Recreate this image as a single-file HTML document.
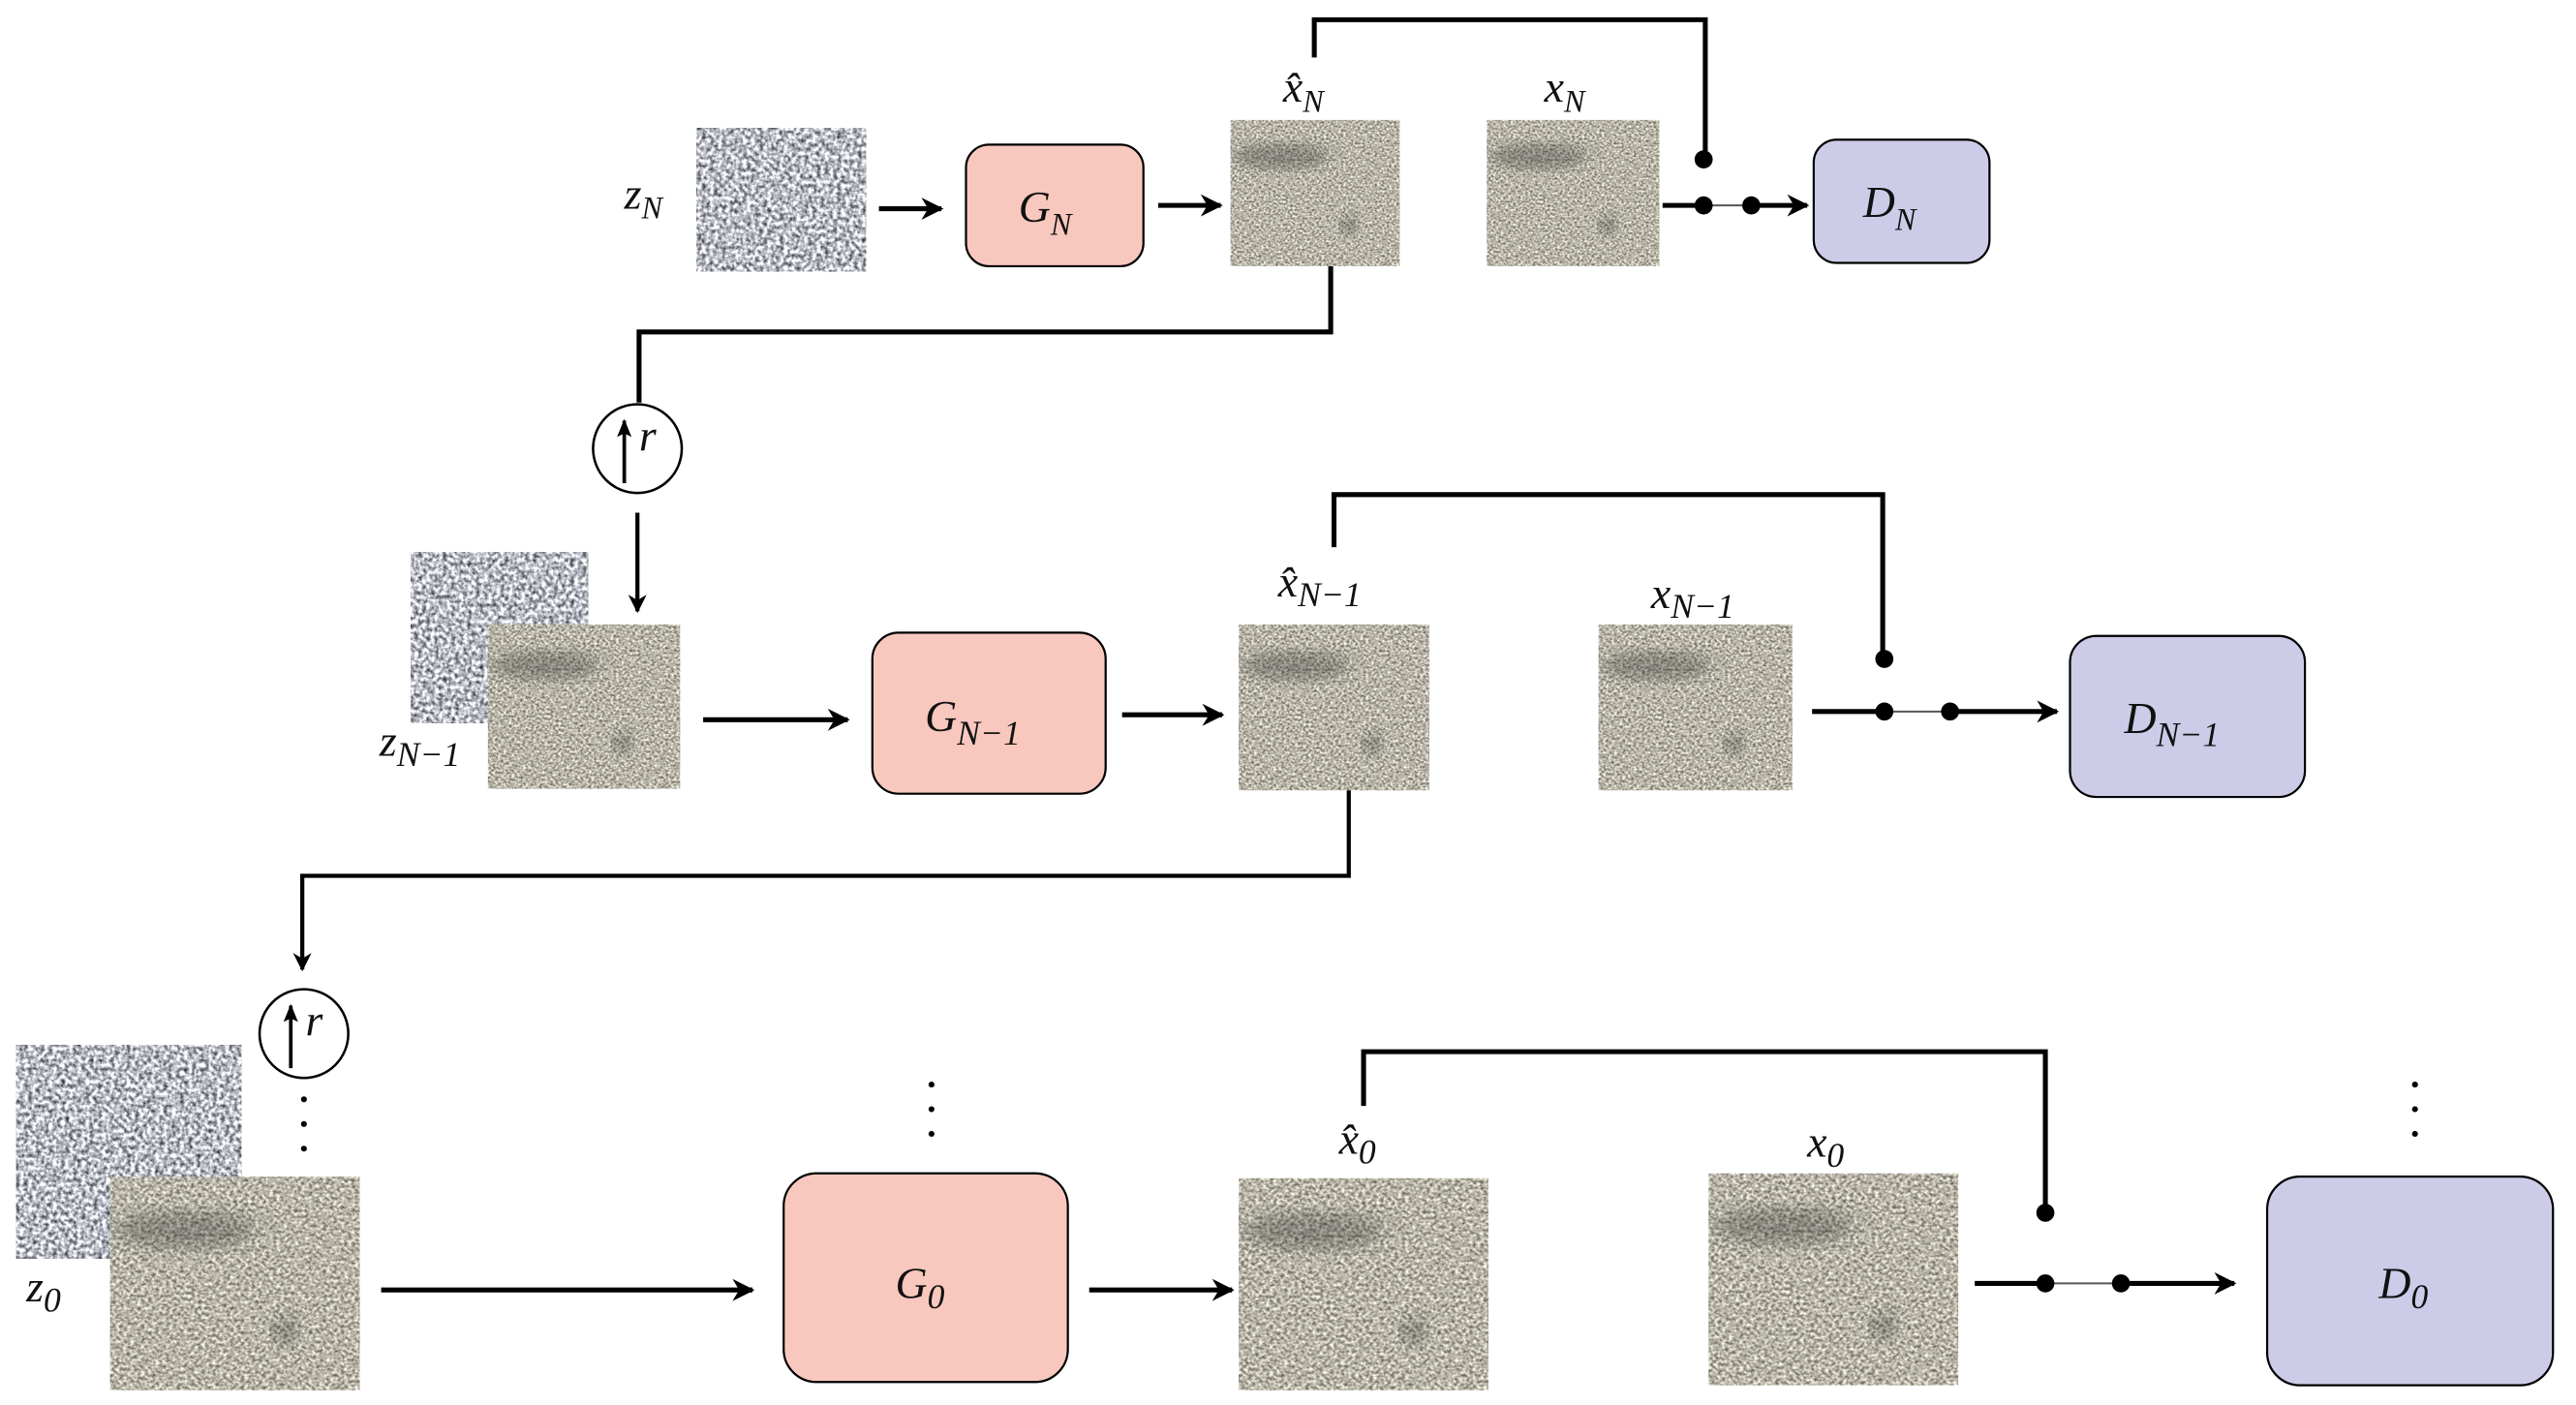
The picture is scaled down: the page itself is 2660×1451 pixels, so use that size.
<!DOCTYPE html>
<html><head><meta charset="utf-8"><style>
html,body{margin:0;padding:0;background:#fff;}
svg{display:block;}
text{font-family:"Liberation Serif",serif;font-style:italic;fill:#111;}
</style></head><body>
<svg width="2660" height="1451" viewBox="0 0 1568 855" preserveAspectRatio="none" xmlns="http://www.w3.org/2000/svg">
<defs>
<filter id="noise" x="0" y="0" width="100%" height="100%" color-interpolation-filters="sRGB">
<feTurbulence type="fractalNoise" baseFrequency="0.4" numOctaves="2" seed="3"/>
<feColorMatrix type="matrix" values="1 0 0 0 0  1 0 0 0 0  1 0 0 0 0  0 0 0 0 1"/>
<feComponentTransfer>
<feFuncR type="linear" slope="1.5" intercept="-0.02"/>
<feFuncG type="linear" slope="1.5" intercept="-0.01"/>
<feFuncB type="linear" slope="1.5" intercept="0.02"/>
</feComponentTransfer>
</filter>
<filter id="sand" x="0" y="0" width="100%" height="100%" color-interpolation-filters="sRGB">
<feTurbulence type="fractalNoise" baseFrequency="0.7" numOctaves="2" seed="7"/>
<feColorMatrix type="matrix" values="1 0 0 0 0  1 0 0 0 0  1 0 0 0 0  0 0 0 0 1"/>
<feComponentTransfer>
<feFuncR type="linear" slope="1.0" intercept="0.22"/>
<feFuncG type="linear" slope="1.0" intercept="0.21"/>
<feFuncB type="linear" slope="1.0" intercept="0.16"/>
</feComponentTransfer>
</filter>
<filter id="blur"><feGaussianBlur stdDeviation="4"/></filter>
<marker id="ah" viewBox="0 0 10 10" refX="9" refY="5" markerWidth="4.5" markerHeight="4.5" orient="auto"><path d="M0,0 L10,5 L0,10 L3,5 z" fill="#000"/></marker>
<marker id="ah2" viewBox="0 0 10 10" refX="9" refY="5" markerWidth="5" markerHeight="5" orient="auto"><path d="M0,1 L10,5 L0,9 L2,5 z" fill="#000"/></marker>
<g id="tex"><rect width="100" height="100" filter="url(#sand)"/><ellipse cx="30" cy="25" rx="28" ry="9" fill="#333" opacity="0.35" filter="url(#blur)"/><ellipse cx="70" cy="72" rx="5" ry="7" fill="#333" opacity="0.4" filter="url(#blur)"/></g>
</defs>
<g stroke="#000" stroke-width="3" fill="none">
<path d="M535,127 H573" marker-end="url(#ah)"/>
<path d="M705,125 H743" marker-end="url(#ah)"/>
<path d="M800,35 V12 H1038 V97"/>
<path d="M1012,125 H1037"/>
<path d="M1066,125 H1100" marker-end="url(#ah)"/>
<path d="M1037,125 H1066" stroke-width="1.2" stroke="#555"/>
<path d="M810,162 V202 H389 V245"/>
<path d="M388,312 V372" stroke-width="2.5" marker-end="url(#ah)"/>
<path d="M428,438 H516" marker-end="url(#ah)"/>
<path d="M683,435 H744" marker-end="url(#ah)"/>
<path d="M812,333 V301 H1146 V401"/>
<path d="M1103,433 H1147"/>
<path d="M1187,433 H1252" marker-end="url(#ah)"/>
<path d="M1147,433 H1187" stroke-width="1.2" stroke="#555"/>
<path d="M821,481 V533 H184 V590" stroke-width="2.5" marker-end="url(#ah)"/>
<path d="M232,785 H458" marker-end="url(#ah)"/>
<path d="M663,785 H750" marker-end="url(#ah)"/>
<path d="M830,673 V640 H1245 V738"/>
<path d="M1202,781 H1245"/>
<path d="M1291,781 H1360" marker-end="url(#ah)"/>
<path d="M1245,781 H1291" stroke-width="1.2" stroke="#555"/>
</g>
<g fill="#000">
<circle cx="1037" cy="97" r="5.5"/><circle cx="1037" cy="125" r="5.5"/><circle cx="1066" cy="125" r="5.5"/>
<circle cx="1147" cy="401" r="5.5"/><circle cx="1147" cy="433" r="5.5"/><circle cx="1187" cy="433" r="5.5"/>
<circle cx="1245" cy="738" r="5.5"/><circle cx="1245" cy="781" r="5.5"/><circle cx="1291" cy="781" r="5.5"/>
<circle cx="185" cy="669" r="1.8"/><circle cx="185" cy="684" r="1.8"/><circle cx="185" cy="699" r="1.8"/>
<circle cx="567" cy="660" r="1.8"/><circle cx="567" cy="675" r="1.8"/><circle cx="567" cy="690" r="1.8"/>
<circle cx="1470" cy="660" r="1.8"/><circle cx="1470" cy="675" r="1.8"/><circle cx="1470" cy="690" r="1.8"/>
</g>
<rect x="424" y="78" width="103" height="87" filter="url(#noise)"/>
<rect x="250" y="336" width="108" height="104" filter="url(#noise)"/>
<rect x="10" y="636" width="137" height="130" filter="url(#noise)"/>
<svg x="749" y="73" width="103" height="89" viewBox="0 0 100 100" preserveAspectRatio="none"><use href="#tex"/></svg>
<svg x="905" y="73" width="105" height="89" viewBox="0 0 100 100" preserveAspectRatio="none"><use href="#tex"/></svg>
<svg x="297" y="380" width="117" height="100" viewBox="0 0 100 100" preserveAspectRatio="none"><use href="#tex"/></svg>
<svg x="754" y="380" width="116" height="101" viewBox="0 0 100 100" preserveAspectRatio="none"><use href="#tex"/></svg>
<svg x="973" y="380" width="118" height="101" viewBox="0 0 100 100" preserveAspectRatio="none"><use href="#tex"/></svg>
<svg x="67" y="716" width="152" height="130" viewBox="0 0 100 100" preserveAspectRatio="none"><use href="#tex"/></svg>
<svg x="754" y="717" width="152" height="129" viewBox="0 0 100 100" preserveAspectRatio="none"><use href="#tex"/></svg>
<svg x="1040" y="714" width="152" height="129" viewBox="0 0 100 100" preserveAspectRatio="none"><use href="#tex"/></svg>
<g stroke="#000" stroke-width="1.3">
<rect x="588" y="88" width="108" height="74" rx="14" fill="#f8c8be"/>
<rect x="531" y="385" width="142" height="98" rx="16" fill="#f8c8be"/>
<rect x="477" y="714" width="173" height="127" rx="20" fill="#f8c8be"/>
<rect x="1104" y="85" width="107" height="75" rx="14" fill="#cccce9"/>
<rect x="1260" y="387" width="143" height="98" rx="16" fill="#cccce9"/>
<rect x="1380" y="716" width="174" height="127" rx="20" fill="#cccce9"/>
</g>
<g stroke="#000" fill="#fff" stroke-width="1.5">
<circle cx="388" cy="273" r="27"/><circle cx="185" cy="629" r="27"/>
</g>
<g stroke="#000" stroke-width="2.2" fill="none">
<path d="M380,294 V256" marker-end="url(#ah2)"/>
<path d="M177,650 V612" marker-end="url(#ah2)"/>
</g>
<g font-size="27">
<text x="389" y="274">r</text>
<text x="186" y="630">r</text>
</g>
<g font-size="27">
<text x="380" y="127">z<tspan font-size="19" dy="6">N</tspan></text>
<text x="620" y="135">G<tspan font-size="19" dy="8">N</tspan></text>
<text x="1134" y="132">D<tspan font-size="19" dy="8">N</tspan></text>
<text x="781" y="62">x̂<tspan font-size="19" dy="6">N</tspan></text>
<text x="940" y="62">x<tspan font-size="19" dy="6">N</tspan></text>
<text x="231" y="460">z<tspan font-size="21" dy="6">N−1</tspan></text>
<text x="563" y="445">G<tspan font-size="21" dy="8">N−1</tspan></text>
<text x="1293" y="446">D<tspan font-size="21" dy="8">N−1</tspan></text>
<text x="778" y="363">x̂<tspan font-size="21" dy="6">N−1</tspan></text>
<text x="1005" y="370">x<tspan font-size="21" dy="6">N−1</tspan></text>
<text x="16" y="792">z<tspan font-size="21" dy="6">0</tspan></text>
<text x="545" y="790">G<tspan font-size="21" dy="6">0</tspan></text>
<text x="1448" y="790">D<tspan font-size="21" dy="6">0</tspan></text>
<text x="815" y="702">x̂<tspan font-size="21" dy="6">0</tspan></text>
<text x="1100" y="704">x<tspan font-size="21" dy="6">0</tspan></text>
</g>
</svg>
</body></html>
